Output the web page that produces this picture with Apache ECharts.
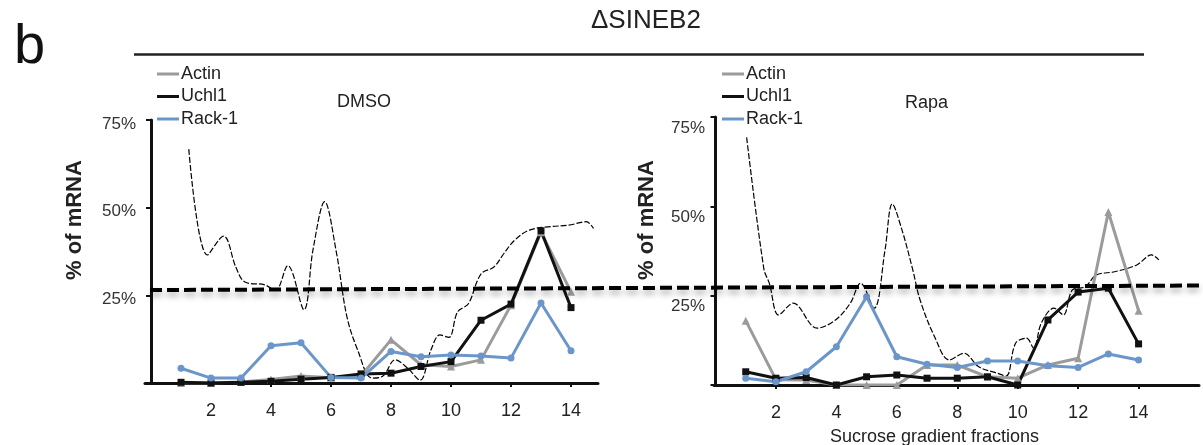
<!DOCTYPE html>
<html>
<head>
<meta charset="utf-8">
<title>ΔSINEB2 sucrose gradient</title>
<script src="https://cdn.jsdelivr.net/npm/echarts@6/dist/echarts.min.js"></script>
<style>
  html, body { margin: 0; padding: 0; background: #fff; }
  #chart { width: 1203px; height: 445px; }
</style>
</head>
<body>
<div id="chart"></div>
<script>
// fractions of the sucrose gradient
var fractions = [1, 2, 3, 4, 5, 6, 7, 8, 9, 10, 11, 12, 13, 14];
var fractionTicks = [2, 4, 6, 8, 10, 12, 14];
var geneNames = ["Actin", "Uchl1", "Rack-1"];

// DMSO panel, % of mRNA
var dmsoActin = [0, 0, 0.3, 1, 2, 1.5, 2, 12.3, 5.2, 4.7, 6.6, 22.2, 43, 26];
var dmsoUchl1 = [0.2, 0, 0.2, 0.5, 1.1, 1.6, 2.6, 2.8, 4.7, 6.1, 17.9, 22.5, 43.4, 21.5];
var dmsoRack1 = [4.2, 1.4, 1.4, 10.6, 11.5, 1.6, 1.4, 9.0, 7.5, 8.0, 7.7, 7.1, 22.8, 9.2];

// Rapa panel, % of mRNA
var rapaActin = [18.0, 1.5, 1.4, 0, 0, 0, 5.6, 5.6, 2.3, 1.9, 5.6, 7.5, 48.4, 20.8];
var rapaUchl1 = [3.7, 1.9, 2.1, 0, 2.3, 2.8, 1.9, 1.9, 2.3, 0, 18.2, 26.0, 27.1, 11.5];
var rapaRack1 = [1.9, 0.9, 3.7, 10.7, 24.7, 7.9, 5.8, 4.9, 6.7, 6.7, 5.4, 4.9, 8.7, 7.0];

// polysome absorbance trace
var dmsoTraceFrac = [1.26, 1.88, 2.42, 2.83, 3.13, 3.79, 4.15, 4.56, 5.1, 5.4, 5.79, 6.17, 6.53, 6.89, 7.36, 7.72, 8.14, 8.56, 8.97, 9.33, 9.63, 9.93, 10.22, 10.58, 10.88, 11.06, 11.42, 11.77, 12.13, 12.61, 13.32, 13.92, 14.51, 14.75];
var dmsoTracePct = [66.7, 36.5, 41.9, 33.0, 28.8, 28.0, 26.4, 33.5, 20.9, 38, 51.7, 37.7, 18.9, 9.4, 1.4, 1.9, 6.6, 4.2, 0.8, 9.4, 13.7, 13.0, 20.3, 22.6, 29.2, 31.6, 33.0, 37.0, 40.8, 43.6, 44.6, 45.0, 46.0, 44.1];
var rapaTraceFrac = [1.03, 1.6, 1.78, 2.09, 2.57, 3.36, 3.97, 4.46, 4.8, 5.25, 5.61, 5.85, 6.16, 6.52, 6.77, 7.25, 7.74, 8.22, 8.71, 9.32, 9.62, 9.93, 10.29, 10.53, 10.78, 11.2, 11.51, 11.81, 12.24, 12.6, 13.21, 13.94, 14.43, 14.67];
var rapaTracePct = [69.3, 32.5, 28.5, 19.6, 22.9, 15.9, 18.2, 22.9, 28.5, 21.5, 37.8, 50.7, 43.7, 32.5, 23.8, 13.5, 7.0, 8.9, 5.1, 3.3, 2.5, 11.7, 13.1, 10.3, 17.3, 21.5, 19.6, 26.6, 27.5, 30.8, 31.7, 33.6, 36.4, 35.0];

// threshold line running across both panels
var thresholdPos = [0, 1];
var thresholdPct = [26.5, 27.8];

var FONT = "'Liberation Sans', Arial, sans-serif";
var BLUE = "#6b96c9";
var GREY = "#9b9b9b";
var BLACK = "#111111";

function pairs(xs, ys) {
  return xs.map(function (x, i) { return [x, ys[i]]; });
}

function geneSeries(name, values, color, symbol, idx) {
  return {
    name: name,
    type: "line",
    xAxisIndex: idx,
    yAxisIndex: idx,
    data: pairs(fractions, values),
    symbol: symbol,
    symbolSize: symbol === "triangle" ? 8 : 7,
    color: color,
    itemStyle: { color: color },
    lineStyle: { color: color, width: 3 },
    emphasis: { disabled: true },
    z: 3,
  };
}

function traceSeries(xs, ys, idx) {
  return {
    name: "trace",
    type: "line",
    xAxisIndex: idx,
    yAxisIndex: idx,
    data: pairs(xs, ys),
    symbol: "none",
    smooth: 0.35,
    lineStyle: { color: "#000", width: 1.2, type: [6, 2] },
    emphasis: { disabled: true },
    z: 2,
  };
}

function xAxisFor(idx, min, max) {
  return {
    type: "value",
    gridIndex: idx,
    min: min,
    max: max,
    axisLine: { lineStyle: { color: BLACK, width: 3 } },
    axisTick: { customValues: fractionTicks, length: 4, lineStyle: { color: BLACK, width: 2 } },
    axisLabel: {
      customValues: fractionTicks,
      margin: 19,
      fontSize: 18,
      color: "#222",
      fontFamily: FONT,
    },
    splitLine: { show: false },
  };
}

// shift: how far below its tick the label sits (the figure's labels hang low)
function yAxisFor(idx, shift) {
  return {
    type: "value",
    gridIndex: idx,
    min: 0,
    max: 75,
    interval: 25,
    axisLine: { show: true, lineStyle: { color: BLACK, width: 3 } },
    axisTick: { show: true, length: 5, lineStyle: { color: BLACK, width: 2 } },
    axisLabel: {
      margin: 9,
      fontSize: 17,
      color: "#333",
      fontFamily: FONT,
      verticalAlign: "top",
      lineHeight: shift * 2,
      formatter: function (v) { return v === 0 ? "" : v + "%"; },
    },
    splitLine: { show: false },
  };
}

function legendAt(left) {
  return {
    data: geneNames,
    orient: "vertical",
    left: left,
    top: 65,
    icon: "rect",
    itemWidth: 22,
    itemHeight: 3,
    itemGap: 4.5,
    padding: 0,
    selectedMode: false,
    textStyle: { fontSize: 18, lineHeight: 18, color: "#222", fontFamily: FONT, padding: [0, 0, 0, -3] },
  };
}

var chart = echarts.init(document.getElementById("chart"), null, { renderer: "canvas" });

chart.setOption({
  animation: false,
  backgroundColor: "#fff",
  textStyle: { fontFamily: FONT },
  title: [
    { text: "b", left: 14, top: 20, padding: 0, textStyle: { fontSize: 56, fontWeight: "normal", color: "#111", fontFamily: FONT } },
    { text: "ΔSINEB2", left: 591, top: 8, padding: 0, textStyle: { fontSize: 26, fontWeight: "normal", color: "#222", fontFamily: FONT } },
    { text: "DMSO", left: 337, top: 93, padding: 0, textStyle: { fontSize: 18, fontWeight: "normal", color: "#222", fontFamily: FONT } },
    { text: "Rapa", left: 905, top: 94, padding: 0, textStyle: { fontSize: 18, fontWeight: "normal", color: "#222", fontFamily: FONT } },
    { text: "Sucrose gradient fractions", left: 830, top: 428, padding: 0, textStyle: { fontSize: 18, fontWeight: "normal", color: "#222", fontFamily: FONT } },
  ],
  legend: [legendAt(157), legendAt(722)],
  graphic: [
    { type: "line", shape: { x1: 134, y1: 54.5, x2: 1144, y2: 54.5 }, style: { stroke: "#222", lineWidth: 2.5 }, silent: true },
    { type: "text", x: 75, y: 220, rotation: Math.PI / 2, style: { text: "% of mRNA", fill: "#222", font: "bold 22px " + FONT, textAlign: "center", textVerticalAlign: "middle" }, silent: true },
    { type: "text", x: 647, y: 220, rotation: Math.PI / 2, style: { text: "% of mRNA", fill: "#222", font: "bold 22px " + FONT, textAlign: "center", textVerticalAlign: "middle" }, silent: true },
  ],
  grid: [
    { left: 145, width: 453, top: 120, height: 263 },
    { left: 714, width: 485, top: 117, height: 268 },
    { left: 150, right: 0, top: 120, height: 263 },
  ],
  xAxis: [
    xAxisFor(0, -0.2, 14.9),
    xAxisFor(1, -0.05, 16),
    { type: "value", gridIndex: 2, min: 0, max: 1, show: false },
  ],
  yAxis: [
    yAxisFor(0, 4),
    yAxisFor(1, 11),
    { type: "value", gridIndex: 2, min: 0, max: 75, show: false },
  ],
  series: [
    traceSeries(dmsoTraceFrac, dmsoTracePct, 0),
    geneSeries("Actin", dmsoActin, GREY, "triangle", 0),
    geneSeries("Uchl1", dmsoUchl1, BLACK, "rect", 0),
    geneSeries("Rack-1", dmsoRack1, BLUE, "circle", 0),
    traceSeries(rapaTraceFrac, rapaTracePct, 1),
    geneSeries("Actin", rapaActin, GREY, "triangle", 1),
    geneSeries("Uchl1", rapaUchl1, BLACK, "rect", 1),
    geneSeries("Rack-1", rapaRack1, BLUE, "circle", 1),
    {
      name: "threshold",
      type: "line",
      xAxisIndex: 2,
      yAxisIndex: 2,
      data: pairs(thresholdPos, thresholdPct),
      symbol: "none",
      lineStyle: {
        color: "#000",
        width: 4,
        type: [12, 5],
        shadowColor: "rgba(0,0,0,0.35)",
        shadowBlur: 6,
        shadowOffsetY: 4,
      },
      emphasis: { disabled: true },
      z: 5,
    },
  ],
});
</script>
</body>
</html>
